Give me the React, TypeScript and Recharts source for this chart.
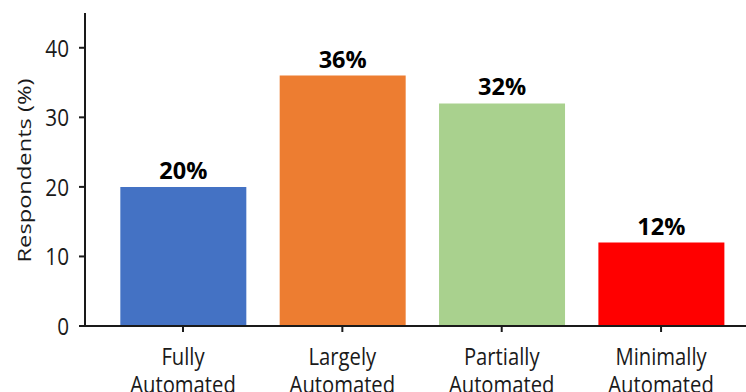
import { BarChart, Bar, XAxis, YAxis, Cell, LabelList } from "recharts";

const levels = ["Fully Automated", "Largely Automated", "Partially Automated", "Minimally Automated"];
const respondentShare = [20, 36, 32, 12];
const barColors = ["#4472C4", "#ED7D31", "#A9D18E", "#FF0000"];
const yTicks = [0, 10, 20, 30, 40];

const rows = levels.map((level, i) => ({ idx: i, level, share: respondentShare[i] }));

const FONT = "'Open Sans', 'DejaVu Sans', sans-serif";
const INK = "#1a1a1a";

// narrow text: glyphs are squeezed horizontally around the anchor point
const YTick = (props: any) => {
  const { x, y, payload } = props;
  return (
    <text
      transform={`translate(${x},${y}) scale(0.9,1)`}
      textAnchor="end"
      dominantBaseline="central"
      fontFamily={FONT}
      fontSize={23}
      fill={INK}
    >
      {payload.value}
    </text>
  );
};

const XTick = (props: any) => {
  const { x, y, payload } = props;
  const words = String(levels[payload.value] ?? "").split(" ");
  return (
    <g transform={`translate(${x},${y}) scale(0.88,1)`}>
      {words.map((w, i) => (
        <text key={i} x={0} y={31 + i * 28} textAnchor="middle" fontFamily={FONT} fontSize={23} fill={INK}>
          {w}
        </text>
      ))}
    </g>
  );
};

const ValueLabel = (props: any) => {
  const { x, y, width, value } = props;
  const cx = x + width / 2;
  return (
    <text
      transform={`translate(${cx},${y - 8}) scale(0.98,1)`}
      textAnchor="middle"
      fontFamily={FONT}
      fontWeight="bold"
      fontSize={24}
      fill="#000"
    >
      {`${value}%`}
    </text>
  );
};

export default function App() {
  return (
    <div style={{ position: "absolute", left: 0, top: 0, width: 746, height: 392, background: "#fff" }}>
      <BarChart width={746} height={392} data={rows} margin={{ top: 13, right: 0, bottom: 0, left: 0 }}>
        <XAxis
          dataKey="idx"
          type="number"
          domain={[-0.615, 3.533]}
          ticks={[0, 1, 2, 3]}
          allowDataOverflow
          height={66}
          tick={<XTick />}
          tickSize={6}
          tickMargin={2}
          axisLine={{ stroke: INK, strokeWidth: 2 }}
          tickLine={{ stroke: INK, strokeWidth: 2 }}
        />
        <YAxis
          type="number"
          domain={[0, 45]}
          ticks={yTicks}
          width={85}
          tick={<YTick />}
          tickSize={6}
          tickMargin={10}
          axisLine={{ stroke: INK, strokeWidth: 2 }}
          tickLine={{ stroke: INK, strokeWidth: 2 }}
        />
        <Bar dataKey="share" barSize={126} isAnimationActive={false}>
          {rows.map((r, i) => (
            <Cell key={r.level} fill={barColors[i]} />
          ))}
          <LabelList dataKey="share" content={<ValueLabel />} />
        </Bar>
      </BarChart>
      {/* axis title drawn on top, rotated and squeezed like the tick text */}
      <svg width={60} height={392} style={{ position: "absolute", left: 0, top: 0, pointerEvents: "none" }}>
        <text
          transform="translate(31,170.5) scale(0.75,1) rotate(-90)"
          textAnchor="middle"
          fontFamily={FONT}
          fontSize={23.5}
          textLength={184}
          lengthAdjust="spacingAndGlyphs"
          fill={INK}
        >
          Respondents (%)
        </text>
      </svg>
    </div>
  );
}
